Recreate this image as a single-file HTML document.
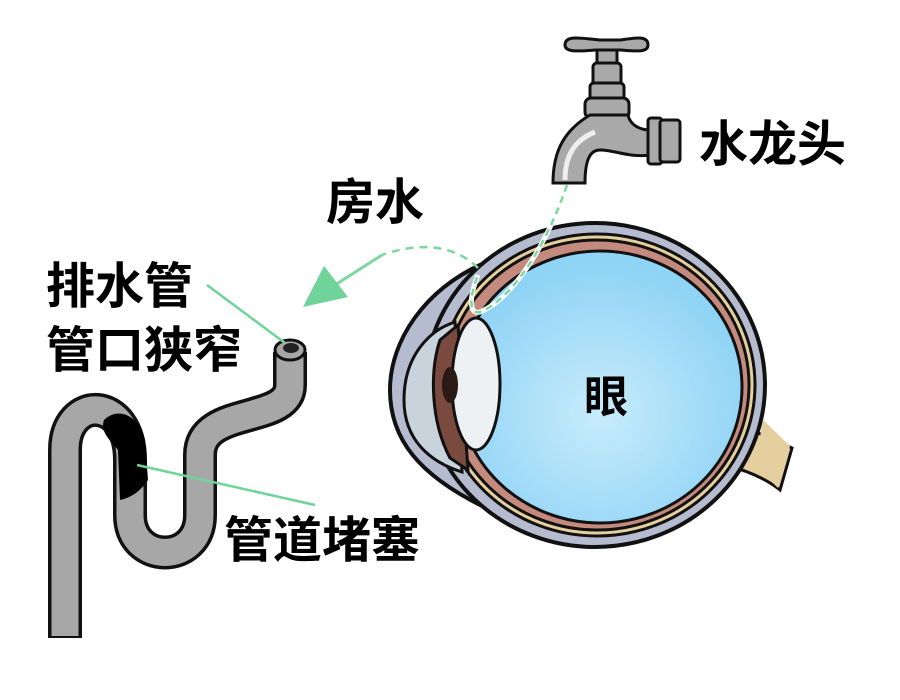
<!DOCTYPE html>
<html><head><meta charset="utf-8"><style>
body{margin:0;background:#fff}
svg{display:block}
text{font-family:"Liberation Sans","Noto Sans CJK SC",sans-serif;font-weight:bold;fill:#000}
</style></head><body>
<svg width="900" height="700" viewBox="0 0 900 700">
<defs>
<radialGradient id="vg" cx="0.5" cy="0.6" r="0.55">
<stop offset="0" stop-color="#c8ecfc"/><stop offset="1" stop-color="#8fd3f5"/>
</radialGradient>
</defs>
<!-- pipe -->
<path d="M65,638 L65,450 C65,395 130,395 130,460 L130,515 C130,565 200,565 200,515 L200,455 C200,405 290,425 290,385 L290,352" fill="none" stroke="#111" stroke-width="34"/>
<path d="M65,636 L65,450 C65,395 130,395 130,460 L130,515 C130,565 200,565 200,515 L200,455 C200,405 290,425 290,385 L290,352" fill="none" stroke="#a7a7a7" stroke-width="27"/>
<path d="M104,420 C120,405 140,418 145,440 L148,480 C140,492 130,498 120,500 L118,450 C110,440 100,432 104,420Z" fill="#000"/>
<ellipse cx="290" cy="350" rx="15" ry="10" fill="#a7a7a7" stroke="#111" stroke-width="3"/>
<ellipse cx="291" cy="348" rx="8" ry="5" fill="#222"/>
<!-- eye -->
<path d="M730,420 C755,432 775,440 792,448 L780,490 C765,478 745,470 725,465Z" fill="#e6cf9e" stroke="#111" stroke-width="3"/>
<path d="M482,264 C425,290 390,340 390,390 C390,440 420,475 482,506 L520,385Z" fill="#b5bccf"/>
<path d="M482,264 C425,290 390,340 390,390 C390,440 420,475 482,506" fill="none" stroke="#111" stroke-width="4"/>
<ellipse cx="595" cy="385" rx="170" ry="162" fill="#b5bccf" stroke="#111" stroke-width="4"/>
<path d="M470,285 L500,260 L500,510 L470,490Z" fill="#b5bccf"/>
<path d="M763,420 L790,446 L778,488 L755,465Z" fill="#e6cf9e"/>
<ellipse cx="597" cy="385" rx="158" ry="151" fill="#e6cf9e" stroke="#111" stroke-width="3"/>
<ellipse cx="597" cy="385" rx="152" ry="145" fill="#c48a7e" stroke="#111" stroke-width="3"/>
<path d="M404,400 C404,355 430,330 455,322 L462,472 C430,462 404,440 404,400Z" fill="#c9d3dc" stroke="#111" stroke-width="3"/>
<path d="M440,340 L458,325 L468,470 L450,458 C430,420 430,370 440,340Z" fill="#7a4a3e" stroke="#111" stroke-width="3"/>
<ellipse cx="600" cy="387" rx="142" ry="136" fill="url(#vg)" stroke="#111" stroke-width="3"/>
<ellipse cx="476" cy="384" rx="24" ry="66" fill="#eef1f3" stroke="#111" stroke-width="3"/>
<ellipse cx="450" cy="385" rx="8" ry="18" fill="#2a1a16"/>
<text x="584" y="412" font-size="44">眼</text>
<!-- dashed flows -->
<path d="M567,185 C545,250 510,300 480,312 C470,315 468,300 478,275" fill="none" stroke="#fff" stroke-width="5"/>
<path d="M567,185 C545,250 510,300 480,312 C470,315 468,300 478,275" fill="none" stroke="#7ed6a0" stroke-width="2.5" stroke-dasharray="7,5"/>
<path d="M478,268 C450,240 410,245 382,255" fill="none" stroke="#7ed6a0" stroke-width="2.5" stroke-dasharray="8,6"/>
<line x1="382" y1="255" x2="335" y2="285" stroke="#7ed6a0" stroke-width="3"/>
<polygon points="303,307 324,266 348,297" fill="#6fd39a"/>
<!-- faucet -->
<g stroke="#111" stroke-width="3" fill="#a9a9a9">
<path d="M565,45 C565,35 580,38 600,40 L620,40 C635,38 648,35 648,45 C648,53 635,51 620,50 L596,50 C580,51 565,53 565,45Z"/>
<rect x="597" y="50" width="20" height="15"/>
<rect x="593" y="63" width="28" height="22" rx="4"/>
<rect x="590" y="83" width="34" height="18" rx="4"/>
<rect x="585" y="98" width="44" height="20" rx="6"/>
<path d="M590,115 L628,115 C630,125 640,130 650,130 L650,155 C630,158 615,150 600,150 C590,150 585,160 585,183 L553,183 C553,150 565,130 590,115Z"/>
<rect x="648" y="118" width="14" height="46" rx="3"/>
<rect x="660" y="120" width="20" height="42" rx="3"/>
</g>
<path d="M565,180 C565,155 575,140 595,132" stroke="#eee" stroke-width="5" fill="none"/>
<!-- labels -->
<text x="699" y="161" font-size="49">水龙头</text>
<text x="326" y="219" font-size="49">房水</text>
<text x="46" y="303" font-size="49">排水管</text>
<text x="46" y="367" font-size="49">管口狭窄</text>
<text x="224" y="557" font-size="49">管道堵塞</text>
<line x1="207" y1="285" x2="285" y2="343" stroke="#6fd39a" stroke-width="2.5"/>
<line x1="137" y1="465" x2="315" y2="505" stroke="#6fd39a" stroke-width="2.5"/>
</svg>
</body></html>
